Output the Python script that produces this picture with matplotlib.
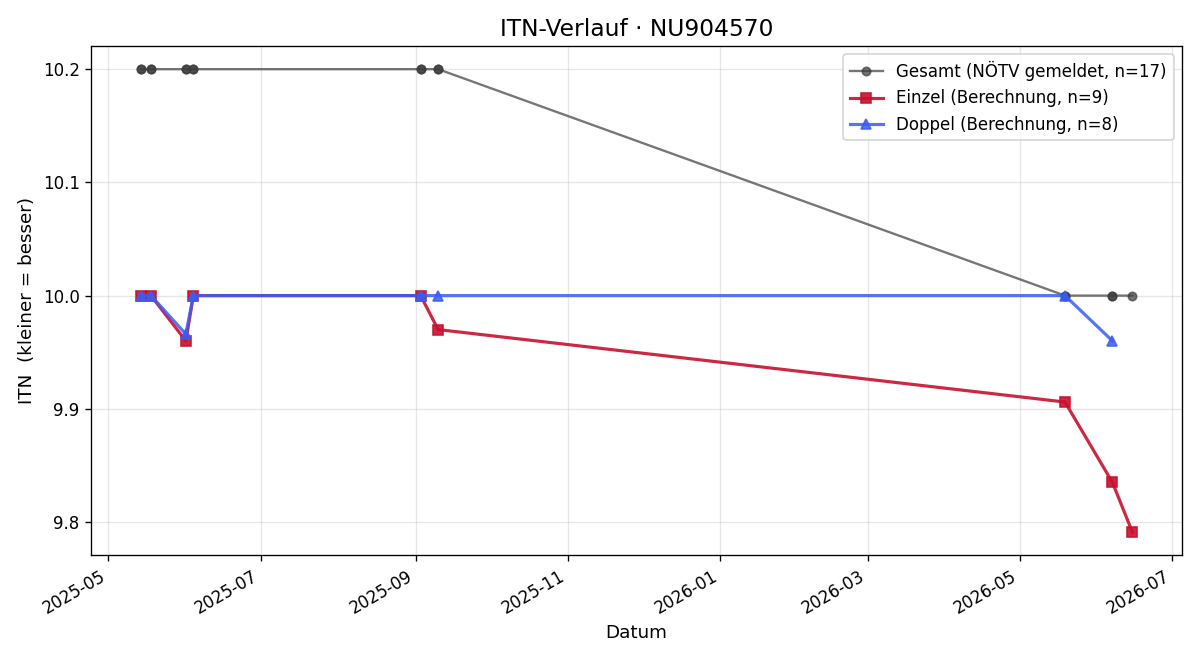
import matplotlib
matplotlib.use("Agg")
import matplotlib.pyplot as plt
import matplotlib.dates as mdates
from matplotlib.ticker import MultipleLocator
import pandas as pd

# Gesamt (NÖTV gemeldet) - one entry per match, overlapping dates
gesamt_dates = ["2025-05-14", "2025-05-14", "2025-05-18", "2025-05-18",
                "2025-06-01", "2025-06-01", "2025-06-04", "2025-06-04",
                "2025-09-03", "2025-09-03", "2025-09-10", "2025-09-10",
                "2026-05-19", "2026-05-19", "2026-06-07", "2026-06-07",
                "2026-06-15"]
gesamt_itn = [10.2, 10.2, 10.2, 10.2, 10.2, 10.2, 10.2, 10.2,
              10.2, 10.2, 10.2, 10.2, 10.0, 10.0, 10.0, 10.0, 10.0]

einzel_dates = ["2025-05-14", "2025-05-18", "2025-06-01", "2025-06-04",
                "2025-09-03", "2025-09-10", "2026-05-19", "2026-06-07",
                "2026-06-15"]
einzel_itn = [10.0, 10.0, 9.96, 10.0, 10.0, 9.97, 9.906, 9.835, 9.791]

doppel_dates = ["2025-05-14", "2025-05-18", "2025-06-01", "2025-06-04",
                "2025-09-03", "2025-09-10", "2026-05-19", "2026-06-07"]
doppel_itn = [10.0, 10.0, 9.966, 10.0, 10.0, 10.0, 10.0, 9.96]

fig, ax = plt.subplots(figsize=(10, 5.5), dpi=120)

ax.plot(pd.to_datetime(gesamt_dates), gesamt_itn, marker="o", markersize=5,
        color="#3c3c3c", alpha=0.7, linewidth=1.4,
        label="Gesamt (NÖTV gemeldet, n=17)")
ax.plot(pd.to_datetime(einzel_dates), einzel_itn, marker="s", markersize=6,
        color="#c8102e", alpha=0.9, linewidth=1.9,
        label="Einzel (Berechnung, n=9)")
ax.plot(pd.to_datetime(doppel_dates), doppel_itn, marker="^", markersize=6,
        color="#3a5cf5", alpha=0.85, linewidth=1.9,
        label="Doppel (Berechnung, n=8)")

ax.set_title("ITN-Verlauf · NU904570", fontsize=14)
ax.set_xlabel("Datum", fontsize=11)
ax.set_ylabel("ITN  (kleiner = besser)", fontsize=11)
ax.grid(True, alpha=0.3)
ax.yaxis.set_major_locator(MultipleLocator(0.1))
ax.xaxis.set_major_locator(mdates.MonthLocator(bymonth=[1, 3, 5, 7, 9, 11]))
ax.xaxis.set_major_formatter(mdates.DateFormatter("%Y-%m"))
ax.legend(loc="upper right")
fig.autofmt_xdate()
fig.tight_layout()
fig.savefig("out.png")
